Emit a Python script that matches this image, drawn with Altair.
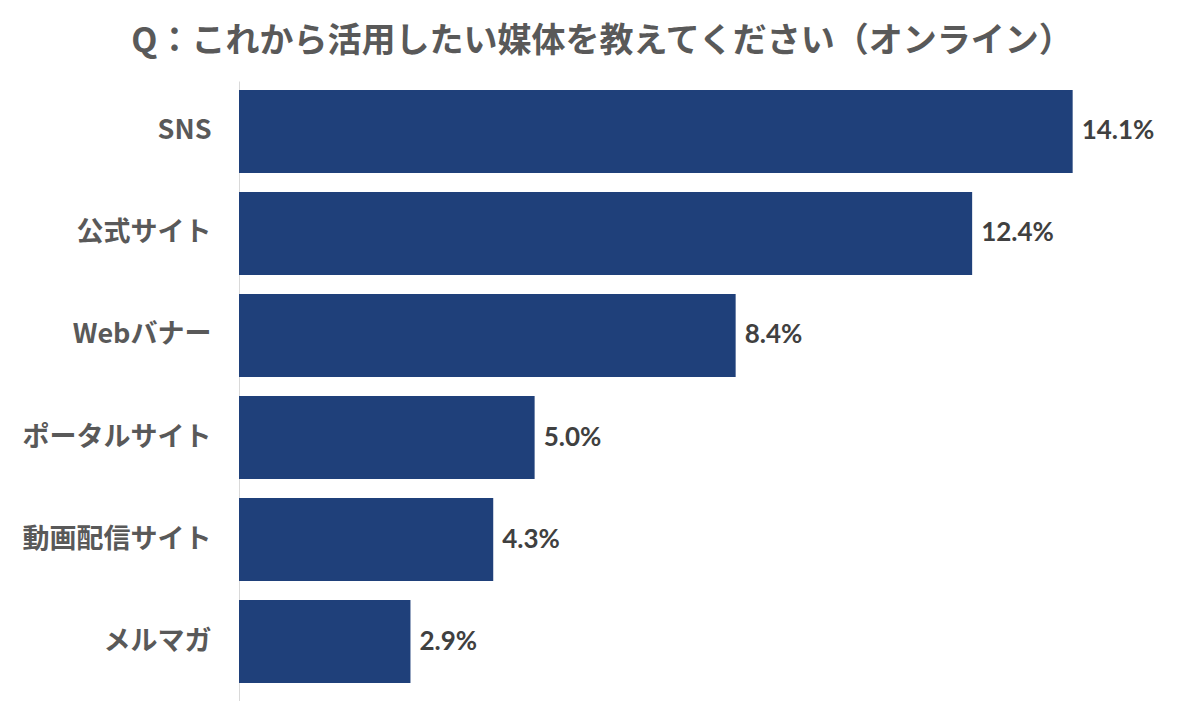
import altair as alt
import pandas as pd

categories = ["SNS", "公式サイト", "Webバナー", "ポータルサイト", "動画配信サイト", "メルマガ"]
values = [14.1, 12.4, 8.4, 5.0, 4.3, 2.9]
title_text = "Q：これから活用したい媒体を教えてください（オンライン）"

df = pd.DataFrame({"media": categories, "value": values})

y_enc = alt.Y(
    "media:N",
    sort=categories,
    scale=alt.Scale(paddingInner=0.186, paddingOuter=0.132, align=0.333),
    axis=alt.Axis(
        title=None,
        ticks=False,
        grid=False,
        domainColor="#d9d9d9",
        domainWidth=1,
        labelPadding=28,
        labelFont="Noto Sans CJK JP",
        labelFontWeight="bold",
        labelFontSize=27,
        labelColor="#595959",
        labelLimit=400,
    ),
)
x_enc = alt.X("value:Q", scale=alt.Scale(domain=[0, 16]), axis=None)

bars = alt.Chart(df).mark_bar(color="#1F407A").encode(x=x_enc, y=y_enc)

labels = (
    alt.Chart(df)
    .transform_calculate(lbl="format(datum.value, '.1f') + '%'")
    .mark_text(
        align="left",
        baseline="middle",
        dx=9,
        font="Lato",
        fontWeight="bold",
        fontSize=26,
        color="#404040",
    )
    .encode(x=x_enc, y=y_enc, text="lbl:N")
)

chart = (
    alt.layer(bars, labels)
    .properties(
        width=946,
        height=620,
        view=alt.ViewBackground(strokeWidth=0, strokeOpacity=0),
        title=alt.TitleParams(
            text=title_text,
            font="Noto Sans CJK JP",
            fontSize=34,
            fontWeight="bold",
            color="#595959",
            anchor="middle",
            dx=-110,
            offset=22,
        ),
        autosize=alt.AutoSizeParams(type="none"),
        padding={"left": 239, "top": 81, "right": 0, "bottom": 0},
    )
    .configure_view(strokeWidth=0, strokeOpacity=0)
    .configure_axisX(domain=False, grid=False, ticks=False, labels=False)
    .configure(background="white")
)

chart.save("out.html", embed_options={"renderer": "svg", "actions": False})
